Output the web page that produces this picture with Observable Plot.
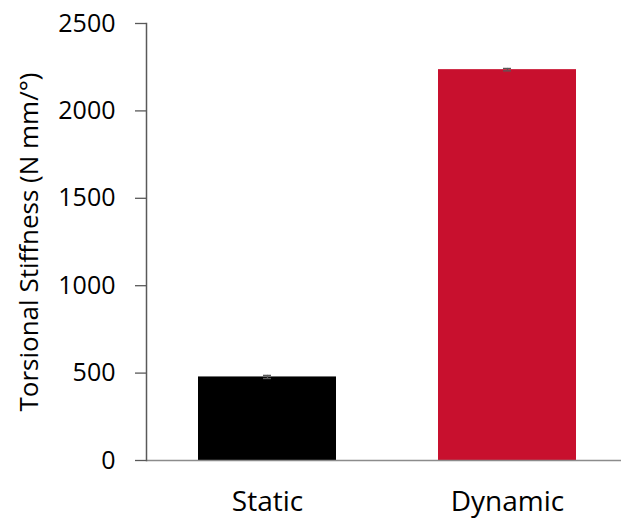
<!DOCTYPE html>
<html><head><meta charset="utf-8">
<script src="https://cdn.jsdelivr.net/npm/d3@7"></script>
<script src="https://cdn.jsdelivr.net/npm/@observablehq/plot@0.6"></script>
<style>body{margin:0;background:#fff;} svg{display:block;}</style>
</head><body><div id="chart"></div>
<script>
const categories = ["Static", "Dynamic"];
const values = [478, 2236];
const errors = [9, 7];
const colors = ["#000000", "#c8102e"];
const yTicks = [0, 500, 1000, 1500, 2000, 2500];
const yTitle = "Torsional Stiffness (N mm/°)";

const data = categories.map((c, i) => ({cat: c, v: values[i], e: errors[i], col: colors[i]}));
const font = "'Open Sans', sans-serif";
const axisGrey = "#595959";

const plot = Plot.plot({
  width: 621, height: 521,
  marginLeft: 146, marginRight: 0, marginTop: 23, marginBottom: 61,
  style: {fontFamily: font, fontSize: "24px", color: "#000", background: "#fff"},
  x: {domain: categories, range: [146, 627], paddingInner: 0.425, paddingOuter: 0.2125, label: null},
  y: {domain: [0, 2500], label: null},
  marks: [
    Plot.barY(data, {x: "cat", y: "v", fill: "col"}),
    Plot.ruleY([0], {stroke: "#8c8c8c", strokeWidth: 1.5}),
    Plot.frame({anchor: "left", stroke: axisGrey, strokeWidth: 1.5}),
    Plot.axisY({ticks: yTicks, tickFormat: d3.format("d"), tickSize: 11, tickPadding: 20, stroke: axisGrey, strokeWidth: 1.3, label: null, fontSize: 25}),
    Plot.axisX({tickSize: 0, tickPadding: 31, label: null, fontSize: 28}),
    Plot.ruleX(data, {x: "cat", y1: d => d.v - d.e, y2: d => d.v + d.e, stroke: axisGrey, strokeWidth: 1.3}),
    Plot.tickY(data, {x: "cat", y: d => d.v + d.e, stroke: axisGrey, inset: 65, strokeWidth: 1.3}),
    Plot.tickY(data, {x: "cat", y: d => d.v - d.e, stroke: axisGrey, inset: 65, strokeWidth: 1.3}),
    Plot.text([yTitle], {text: d => d, frameAnchor: "left", textAnchor: "middle", dx: -117, rotate: -90, fontSize: 26})
  ]
});
document.getElementById("chart").appendChild(plot);
</script></body></html>
